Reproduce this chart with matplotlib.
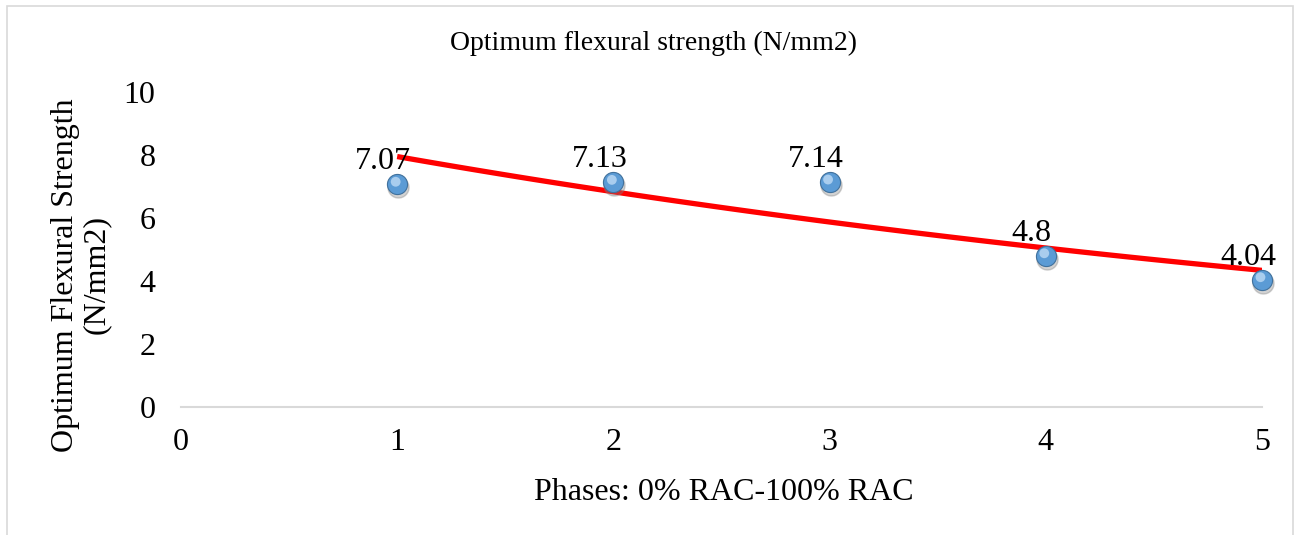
import numpy as np
import matplotlib.pyplot as plt
import matplotlib.patches as mpatches
import matplotlib.transforms as mtransforms

# data
phases = [1, 2, 3, 4, 5]
strength = [7.07, 7.13, 7.14, 4.8, 4.04]
labels = ['7.07', '7.13', '7.14', '4.8', '4.04']

plt.rcParams['font.family'] = ['Liberation Serif', 'DejaVu Serif']

fig = plt.figure(figsize=(13.01, 5.35), dpi=100)
ax = fig.add_axes([0.1391, 0.2393, 0.8309, 0.5888])

# exponential trendline (Excel style), fitted on the data
x = np.array(phases, dtype=float)
y = np.array(strength)
d, c = np.polyfit(x, np.log(y), 1)
xt = np.linspace(x.min(), x.max(), 100)
ax.plot(xt, np.exp(c + d * xt), color='#FF0000', lw=3.8, zorder=2, solid_capstyle='butt')

# markers: blue spheres with soft shadow
shadow = ax.transData + mtransforms.ScaledTranslation(1/100, -3/100, fig.dpi_scale_trans)
hilite = ax.transData + mtransforms.ScaledTranslation(-1.5/100, 2.5/100, fig.dpi_scale_trans)
ax.scatter(x, y, s=230, color='#7F7F7F', alpha=0.35, zorder=3, transform=shadow, clip_on=False)
ax.scatter(x, y, s=210, color='#5B9BD5', edgecolor='#41719C', lw=0.8, zorder=4, clip_on=False)
ax.scatter(x, y, s=50, color='#A9CDEE', edgecolor='none', zorder=5, transform=hilite, clip_on=False)

for xi, yi, lab in zip(x, y, labels):
    ax.annotate(lab, (xi, yi), xytext=(-14, 8), textcoords='offset pixels',
                ha='center', va='bottom', fontsize=23, zorder=6)

ax.set_xlim(0, 5)
ax.set_ylim(0, 10)
ax.set_xticks(range(0, 6))
ax.set_yticks(range(0, 11, 2))
ax.tick_params(length=0, labelsize=23, pad=15)
ax.tick_params(axis='y', pad=18.5)
for s in ['top', 'right', 'left']:
    ax.spines[s].set_visible(False)
ax.spines['bottom'].set_color('#D9D9D9')
ax.spines['bottom'].set_linewidth(1.5)

fig.text(0.502, 0.919, 'Optimum flexural strength (N/mm2)', ha='center', va='center', fontsize=20)
fig.text(0.556, 0.079, 'Phases: 0% RAC-100% RAC', ha='center', va='center', fontsize=23)
fig.text(0.062, 0.486, 'Optimum Flexural Strength\n(N/mm2)', ha='center', va='center',
         rotation=90, fontsize=23, linespacing=1.1)

# chart area border
fig.patches.append(mpatches.Rectangle((7/1301, -0.01), 1286/1301, 1 - 6/535 + 0.01,
                                      transform=fig.transFigure, fill=False,
                                      edgecolor='#D9D9D9', lw=1.2))

fig.savefig('out.png', dpi=100)
